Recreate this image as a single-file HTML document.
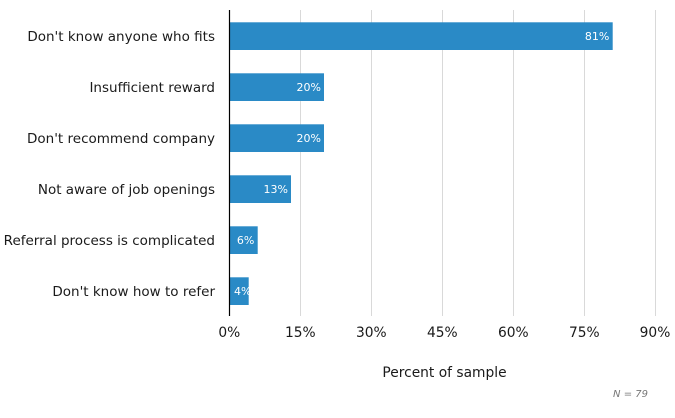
<!DOCTYPE html>
<html>
<head>
<meta charset="utf-8">
<style>
  html, body { margin:0; padding:0; background:#fff; }
  svg { display:block; }
  text { font-family: "DejaVu Sans", Verdana, "Liberation Sans", sans-serif; }
</style>
</head>
<body>
<svg width="675" height="418" viewBox="0 0 675 418" xmlns="http://www.w3.org/2000/svg">
  <rect x="0" y="0" width="675" height="418" fill="#ffffff"/>
  <!-- gridlines -->
  <g stroke="#d9d9d9" stroke-width="1">
    <line x1="300.5" y1="10" x2="300.5" y2="316"/>
    <line x1="371.5" y1="10" x2="371.5" y2="316"/>
    <line x1="442.5" y1="10" x2="442.5" y2="316"/>
    <line x1="513.5" y1="10" x2="513.5" y2="316"/>
    <line x1="584.5" y1="10" x2="584.5" y2="316"/>
    <line x1="655.5" y1="10" x2="655.5" y2="316"/>
  </g>
  <!-- bars -->
  <g fill="#2a8ac6">
    <rect x="229" y="22.3" width="383.7" height="27.7"/>
    <rect x="229" y="73.3" width="95" height="27.7"/>
    <rect x="229" y="124.3" width="95" height="27.7"/>
    <rect x="229" y="175.3" width="62" height="27.7"/>
    <rect x="229" y="226.3" width="28.7" height="27.7"/>
    <rect x="229" y="277.3" width="19.7" height="27.7"/>
  </g>
  <!-- axis -->
  <line x1="229.5" y1="10" x2="229.5" y2="316" stroke="#000" stroke-width="1.2"/>
  <!-- bar value labels -->
  <g fill="#ffffff" font-size="11" text-anchor="end">
    <text x="609.3" y="40">81%</text>
    <text x="321" y="91">20%</text>
    <text x="321" y="142">20%</text>
    <text x="288" y="193">13%</text>
    <text x="254.3" y="244">6%</text>
    <text x="251.5" y="295">4%</text>
  </g>
  <!-- category labels -->
  <g fill="#1a1a1a" font-size="13.5" text-anchor="end">
    <text x="215" y="41">Don't know anyone who fits</text>
    <text x="215" y="92">Insufficient reward</text>
    <text x="215" y="143">Don't recommend company</text>
    <text x="215" y="194">Not aware of job openings</text>
    <text x="215" y="245">Referral process is complicated</text>
    <text x="215" y="296">Don't know how to refer</text>
  </g>
  <!-- tick labels -->
  <g fill="#1a1a1a" font-size="13.8" text-anchor="middle">
    <text x="229.3" y="337">0%</text>
    <text x="300.3" y="337">15%</text>
    <text x="371.3" y="337">30%</text>
    <text x="442.3" y="337">45%</text>
    <text x="513.3" y="337">60%</text>
    <text x="584.3" y="337">75%</text>
    <text x="655" y="337">90%</text>
  </g>
  <text x="444.5" y="377" fill="#1a1a1a" font-size="13.8" text-anchor="middle">Percent of sample</text>
  <text x="648" y="397" fill="#777777" font-size="10" font-style="italic" text-anchor="end">N = 79</text>
</svg>
</body>
</html>
